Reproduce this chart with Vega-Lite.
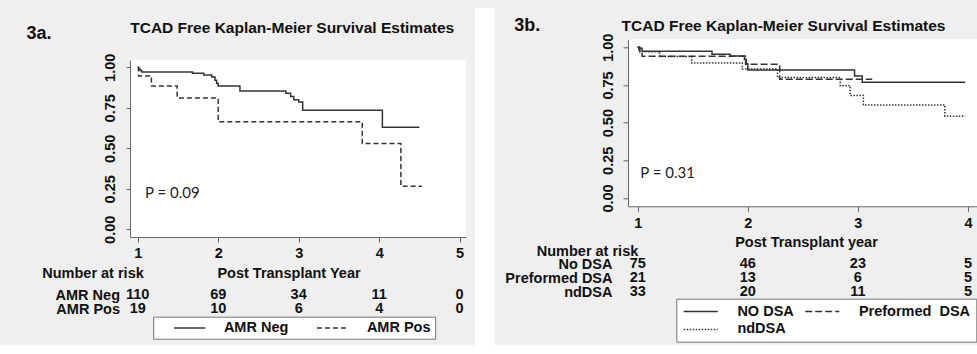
{
  "$schema": "https://vega.github.io/schema/vega-lite/v6.json",
  "background": "#efefef",
  "padding": {"left": 26, "top": 8, "right": 0, "bottom": 0},
  "spacing": 9,
  "resolve": {"scale": {"strokeDash": "independent"}, "legend": {"strokeDash": "independent"}},
  "config": {
    "view": {"stroke": null},
    "font": "Liberation Sans",
    "axis": {
      "labelFont": "Liberation Sans", "labelFontSize": 14.5, "labelFontWeight": "bold", "labelColor": "#111",
      "titleFont": "Liberation Sans", "titleFontSize": 14.5, "titleFontWeight": "bold", "titleColor": "#111",
      "domainColor": "#666", "tickColor": "#666", "grid": false
    },
    "title": {"font": "Liberation Sans", "fontWeight": "bold", "color": "#111"},
    "legend": {
      "labelFont": "Liberation Sans", "labelFontSize": 14.5, "labelFontWeight": "bold", "labelColor": "#111",
      "fillColor": "white", "strokeColor": "#777", "symbolStrokeWidth": 1.5,
      "symbolStrokeColor": "#333", "symbolFillColor": "transparent", "labelLimit": 0
    }
  },
  "datasets": {
    "blank": [{}],
    "kmA": [
      {"t": 1.0, "s": 1.0, "g": "AMR Neg"}, {"t": 1.01, "s": 0.99, "g": "AMR Neg"}, {"t": 1.03, "s": 0.98, "g": "AMR Neg"},
      {"t": 1.05, "s": 0.971, "g": "AMR Neg"}, {"t": 1.68, "s": 0.963, "g": "AMR Neg"}, {"t": 1.82, "s": 0.952, "g": "AMR Neg"},
      {"t": 1.92, "s": 0.94, "g": "AMR Neg"}, {"t": 1.96, "s": 0.92, "g": "AMR Neg"}, {"t": 1.98, "s": 0.9, "g": "AMR Neg"},
      {"t": 2.0, "s": 0.885, "g": "AMR Neg"}, {"t": 2.27, "s": 0.854, "g": "AMR Neg"}, {"t": 2.84, "s": 0.84, "g": "AMR Neg"},
      {"t": 2.9, "s": 0.82, "g": "AMR Neg"}, {"t": 2.94, "s": 0.8, "g": "AMR Neg"}, {"t": 3.0, "s": 0.785, "g": "AMR Neg"},
      {"t": 3.05, "s": 0.735, "g": "AMR Neg"}, {"t": 4.04, "s": 0.63, "g": "AMR Neg"}, {"t": 4.5, "s": 0.63, "g": "AMR Neg"},
      {"t": 1.0, "s": 1.0, "g": "AMR Pos"}, {"t": 1.01, "s": 0.947, "g": "AMR Pos"}, {"t": 1.17, "s": 0.884, "g": "AMR Pos"},
      {"t": 1.49, "s": 0.81, "g": "AMR Pos"}, {"t": 2.0, "s": 0.664, "g": "AMR Pos"}, {"t": 3.79, "s": 0.53, "g": "AMR Pos"},
      {"t": 4.27, "s": 0.265, "g": "AMR Pos"}, {"t": 4.53, "s": 0.265, "g": "AMR Pos"}
    ],
    "kmB": [
      {"t": 1.0, "s": 1.0, "g": "NO DSA"}, {"t": 1.01, "s": 0.993, "g": "NO DSA"}, {"t": 1.04, "s": 0.973, "g": "NO DSA"},
      {"t": 1.675, "s": 0.953, "g": "NO DSA"}, {"t": 1.84, "s": 0.942, "g": "NO DSA"}, {"t": 1.97, "s": 0.92, "g": "NO DSA"},
      {"t": 1.985, "s": 0.89, "g": "NO DSA"}, {"t": 2.0, "s": 0.85, "g": "NO DSA"}, {"t": 2.97, "s": 0.81, "g": "NO DSA"},
      {"t": 3.04, "s": 0.768, "g": "NO DSA"}, {"t": 3.975, "s": 0.768, "g": "NO DSA"},
      {"t": 1.0, "s": 1.0, "g": "Preformed DSA"}, {"t": 1.02, "s": 0.97, "g": "Preformed DSA"}, {"t": 1.04, "s": 0.94, "g": "Preformed DSA"},
      {"t": 1.98, "s": 0.887, "g": "Preformed DSA"}, {"t": 2.29, "s": 0.788, "g": "Preformed DSA"}, {"t": 3.13, "s": 0.788, "g": "Preformed DSA"},
      {"t": 1.0, "s": 1.0, "g": "ndDSA"}, {"t": 1.01, "s": 0.97, "g": "ndDSA"}, {"t": 1.2, "s": 0.939, "g": "ndDSA"},
      {"t": 1.49, "s": 0.895, "g": "ndDSA"}, {"t": 1.95, "s": 0.856, "g": "ndDSA"}, {"t": 2.27, "s": 0.8, "g": "ndDSA"},
      {"t": 2.84, "s": 0.745, "g": "ndDSA"}, {"t": 2.93, "s": 0.68, "g": "ndDSA"}, {"t": 3.05, "s": 0.617, "g": "ndDSA"},
      {"t": 3.79, "s": 0.543, "g": "ndDSA"}, {"t": 3.975, "s": 0.543, "g": "ndDSA"}
    ],
    "riskA": [
      {"t": 1, "g": "AMR Neg", "n": 110}, {"t": 2, "g": "AMR Neg", "n": 69}, {"t": 3, "g": "AMR Neg", "n": 34},
      {"t": 4, "g": "AMR Neg", "n": 11}, {"t": 5, "g": "AMR Neg", "n": 0},
      {"t": 1, "g": "AMR Pos", "n": 19}, {"t": 2, "g": "AMR Pos", "n": 10}, {"t": 3, "g": "AMR Pos", "n": 6},
      {"t": 4, "g": "AMR Pos", "n": 4}, {"t": 5, "g": "AMR Pos", "n": 0}
    ],
    "riskB": [
      {"t": 1, "g": "No DSA", "n": 75}, {"t": 2, "g": "No DSA", "n": 46}, {"t": 3, "g": "No DSA", "n": 23}, {"t": 4, "g": "No DSA", "n": 5},
      {"t": 1, "g": "Preformed DSA", "n": 21}, {"t": 2, "g": "Preformed DSA", "n": 13}, {"t": 3, "g": "Preformed DSA", "n": 6}, {"t": 4, "g": "Preformed DSA", "n": 5},
      {"t": 1, "g": "ndDSA", "n": 33}, {"t": 2, "g": "ndDSA", "n": 20}, {"t": 3, "g": "ndDSA", "n": 11}, {"t": 4, "g": "ndDSA", "n": 5}
    ]
  },
  "hconcat": [
    {
      "bounds": "flush",
      "spacing": 51,
      "resolve": {"scale": {"strokeDash": "independent"}, "legend": {"strokeDash": "independent"}},
      "vconcat": [
        {
          "data": {"name": "blank"}, "width": 336, "height": 1,
          "mark": {"type": "rect", "opacity": 0},
          "title": {"text": "3a.", "anchor": "start", "frame": "group", "fontSize": 18, "baseline": "alphabetic", "offset": -49.1, "dx": -103.5}
        },
        {
          "width": 336, "height": 177,
          "view": {"fill": "white", "stroke": null},
          "title": {"text": "TCAD Free Kaplan-Meier Survival Estimates", "fontSize": 15.5, "anchor": "middle", "baseline": "alphabetic", "offset": 5.1, "dx": -5.8},
          "layer": [
            {
              "data": {"name": "kmA"},
              "mark": {"type": "line", "interpolate": "step-after", "strokeWidth": 1.5, "color": "#333"},
              "encoding": {
                "x": {"field": "t", "type": "quantitative", "scale": {"domain": [0.904, 5.079], "nice": false, "zero": false},
                  "axis": {"values": [1, 2, 3, 4, 5], "format": "d", "tickSize": 5, "labelPadding": 4, "title": "Post Transplant Year",
                    "titleX": 158.5, "titleY": 40.4, "titleAlign": "center", "titleBaseline": "alphabetic"}},
                "y": {"field": "s", "type": "quantitative", "scale": {"domain": [-0.0475, 1.045], "nice": false, "zero": false},
                  "axis": {"values": [0, 0.25, 0.5, 0.75, 1], "format": ".2f", "labelAngle": 270, "labelAlign": "center", "labelBaseline": "alphabetic",
                    "tickSize": 4, "labelPadding": 11.5, "title": null}},
                "strokeDash": {"field": "g", "type": "nominal",
                  "scale": {"domain": ["AMR Neg", "AMR Pos"], "range": [[1, 0], [5, 3]]},
                  "legend": {"orient": "none", "legendX": 23.2, "legendY": 256.7, "direction": "horizontal", "columns": 2,
                    "title": "\u00a0", "titleOrient": "left", "titleFontSize": 1, "titlePadding": 14.5, "padding": 4,
                    "symbolType": "M-3.14,0L3.14,0", "symbolSize": 100, "symbolOffset": 10.7, "labelOffset": 27, "columnPadding": 25,
                    "labelExpr": "datum.label == 'AMR Pos' ? 'AMR Pos\u00a0\u00a0\u00a0\u00a0' : datum.label"}}
              }
            },
            {
              "data": {"name": "blank"},
              "mark": {"type": "text", "font": "Lato", "fontSize": 15, "align": "left", "baseline": "middle", "color": "#222"},
              "encoding": {"x": {"datum": 1.09}, "y": {"datum": 0.226}, "text": {"value": "P = 0.09"}}
            }
          ]
        },
        {
          "data": {"name": "riskA"},
          "width": 336, "height": 28,
          "mark": {"type": "text", "fontSize": 14.5, "fontWeight": "bold", "baseline": "middle", "color": "#111"},
          "encoding": {
            "x": {"field": "t", "type": "quantitative", "scale": {"domain": [0.904, 5.079], "nice": false, "zero": false}, "axis": null},
            "y": {"field": "g", "type": "nominal", "scale": {"domain": ["AMR Neg", "AMR Pos"]},
              "axis": {"title": "Number at risk", "titleAngle": 0, "titleX": -37.5, "titleY": -10.1, "titleAlign": "center", "titleBaseline": "alphabetic",
                "domain": false, "ticks": false, "labelPadding": 10.5, "labelAlign": "right", "labelBaseline": "middle"}},
            "text": {"field": "n", "type": "quantitative", "format": "d"}
          }
        }
      ]
    },
    {"data": {"name": "blank"}, "width": 19.5, "height": 337, "mark": {"type": "rect", "color": "white"}},
    {
      "bounds": "flush",
      "spacing": 30.3,
      "resolve": {"scale": {"strokeDash": "independent"}, "legend": {"strokeDash": "independent"}},
      "vconcat": [
        {
          "data": {"name": "blank"}, "width": 349, "height": 1,
          "mark": {"type": "rect", "opacity": 0},
          "title": {"text": "3b.", "anchor": "start", "frame": "group", "fontSize": 18, "baseline": "alphabetic", "offset": -40.5, "dx": -113.7}
        },
        {
          "bounds": "flush",
          "spacing": 51,
          "resolve": {"scale": {"strokeDash": "independent"}, "legend": {"strokeDash": "independent"}},
          "vconcat": [
            {
              "width": 349, "height": 167,
              "view": {"fill": "white", "stroke": null},
              "title": {"text": "TCAD Free Kaplan-Meier Survival Estimates", "fontSize": 15.5, "anchor": "middle", "baseline": "alphabetic", "offset": -13.7, "dx": -19},
              "layer": [
                {
                  "data": {"name": "kmB"},
                  "mark": {"type": "line", "interpolate": "step-after", "strokeWidth": 1.5, "color": "#333"},
                  "encoding": {
                    "x": {"field": "t", "type": "quantitative", "scale": {"domain": [0.912, 4.082], "nice": false, "zero": false},
                      "axis": {"values": [1, 2, 3, 4], "format": "d", "tickSize": 5, "labelPadding": 5, "title": "Post Transplant year",
                        "titleX": 178, "titleY": 40, "titleAlign": "center", "titleBaseline": "alphabetic"}},
                    "y": {"field": "s", "type": "quantitative", "scale": {"domain": [-0.055, 1.053], "nice": false, "zero": false},
                      "axis": {"values": [0, 0.25, 0.5, 0.75, 1], "format": ".2f", "labelAngle": 270, "labelAlign": "center", "labelBaseline": "alphabetic",
                        "tickSize": 5, "labelPadding": 10.7, "title": null}},
                    "strokeDash": {"field": "g", "type": "nominal",
                      "scale": {"domain": ["NO DSA", "Preformed DSA", "ndDSA"], "range": [[1, 0], [7, 3], [1.5, 1.5]]},
                      "legend": {"orient": "none", "legendX": 48.3, "legendY": 259.4, "direction": "horizontal", "columns": 2,
                        "title": null, "padding": 5.5, "rowPadding": 3, "columnPadding": 7.5,
                        "symbolType": "M-3.41,0L3.41,0", "symbolSize": 100, "symbolOffset": 11.7, "labelOffset": 29.4,
                        "labelExpr": "datum.label == 'Preformed DSA' ? 'Preformed\u00a0 DSA' : datum.label"}}
                  }
                },
                {
                  "data": {"name": "blank"},
                  "mark": {"type": "text", "font": "Lato", "fontSize": 15, "align": "left", "baseline": "middle", "color": "#222"},
                  "encoding": {"x": {"datum": 1.024}, "y": {"datum": 0.164}, "text": {"value": "P = 0.31"}}
                }
              ]
            },
            {
              "data": {"name": "riskB"},
              "width": 349, "height": 42,
              "mark": {"type": "text", "fontSize": 14.5, "fontWeight": "bold", "baseline": "middle", "color": "#111"},
              "encoding": {
                "x": {"field": "t", "type": "quantitative", "scale": {"domain": [0.912, 4.082], "nice": false, "zero": false}, "axis": null},
                "y": {"field": "g", "type": "nominal", "scale": {"domain": ["No DSA", "Preformed DSA", "ndDSA"]},
                  "axis": {"title": "Number at risk", "titleAngle": 0, "titleX": -41, "titleY": -2.1, "titleAlign": "center", "titleBaseline": "alphabetic",
                    "domain": false, "ticks": false, "labelPadding": 16, "labelAlign": "right", "labelBaseline": "middle"}},
                "text": {"field": "n", "type": "quantitative", "format": "d"}
              }
            }
          ]
        }
      ]
    }
  ]
}
